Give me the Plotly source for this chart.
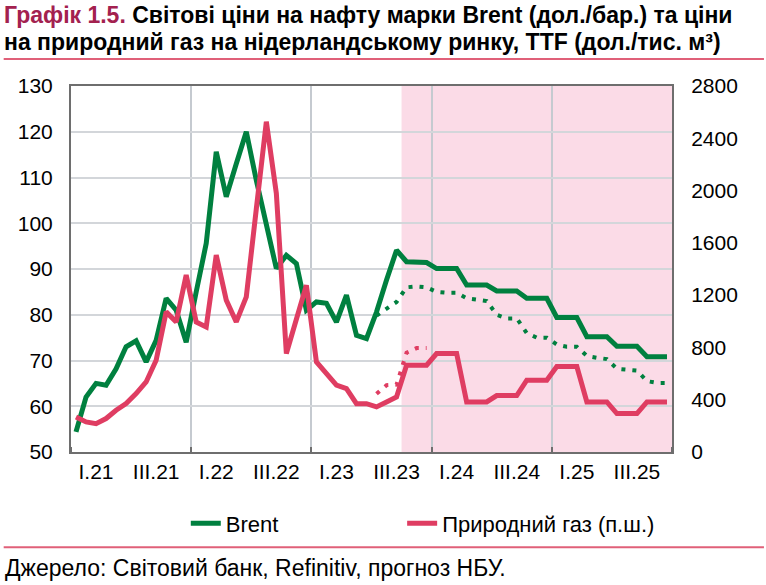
import numpy as np
import plotly.graph_objects as go

# ---------------- data ----------------
months = [f"{y}-{m:02d}" for y in range(2021, 2026) for m in range(1, 13)]

# Brent, $/bbl (actual to Sep-2023, NBU forecast afterwards)
brent = [
    54.4, 62.0, 65.0, 64.6, 68.2, 73.0, 74.3, 69.7, 74.4, 83.6, 81.0, 74.0,
    85.0, 95.6, 115.6, 105.8, 113.0, 120.0, 109.4, 99.2, 90.1, 93.0, 91.2, 81.0,
    82.8, 82.5, 78.4, 84.3, 75.5, 74.8, 80.6, 87.6, 94.1, 91.6, 91.6, 91.4,
    90.1, 90.1, 90.1, 86.5, 86.5, 86.5, 85.2, 85.2, 85.2, 83.6, 83.6, 83.6,
    79.4, 79.4, 79.4, 75.2, 75.2, 75.2, 73.1, 73.1, 73.1, 70.8, 70.8, 70.8,
]

# Natural gas TTF, $/th. m3 (right axis)
gas = [
    268, 230, 217, 256, 319, 371, 447, 536, 702, 1072, 995, 1353,
    995, 957, 1506, 1162, 995, 1187, 1860, 2527, 1979, 753, 1016, 1276,
    689, 600, 511, 485, 370, 370, 345, 383, 421, 664, 664, 664,
    753, 753, 753, 383, 383, 383, 432, 432, 432, 549, 549, 549,
    654, 654, 654, 383, 383, 383, 294, 294, 294, 383, 383, 383,
]

# previous forecast (dotted)
prev_start = "2023-07"
brent_prev = [
    79.8, 81.2, 82.8, 86.0, 86.2, 86.0,
    85.0, 84.8, 84.8, 83.6, 83.3, 83.0, 80.0, 79.2, 79.2, 76.0, 75.0, 75.0,
    73.5, 73.0, 73.0, 71.0, 70.6, 70.3, 68.2, 68.0, 67.8, 65.5, 65.1, 65.1,
]
gas_prev = [445, 511, 515, 760, 795, 795]

forecast_start = "2023-10"

tick_months = ["2021-03", "2021-09", "2022-03", "2022-09", "2023-03",
               "2023-09", "2024-03", "2024-09", "2025-03", "2025-09"]
tick_labels = ["I.21", "III.21", "I.22", "III.22", "I.23",
               "III.23", "I.24", "III.24", "I.25", "III.25"]

# ---------------- styling ----------------
GREEN = "#00803f"
RED = "#df3d62"
PINK = "#fbdbe7"
FONT = "Liberation Sans, Arial, sans-serif"

x_all = np.arange(len(months)) + 0.5
ps = months.index(prev_start)
x_bprev = x_all[ps:ps + len(brent_prev)]
x_gprev = x_all[ps:ps + len(gas_prev)]
tickvals = [months.index(m) + 0.5 for m in tick_months]
fc = months.index(forecast_start)

fig = go.Figure()
fig.add_trace(go.Scatter(x=x_bprev, y=brent_prev, mode="lines",
                         line=dict(color=GREEN, width=4, dash="4px,7px"),
                         showlegend=False, hoverinfo="skip"))
fig.add_trace(go.Scatter(x=x_gprev, y=gas_prev, mode="lines", yaxis="y2",
                         line=dict(color=RED, width=4, dash="4px,7px"),
                         showlegend=False, hoverinfo="skip"))
fig.add_trace(go.Scatter(x=x_all, y=brent, mode="lines", name="Brent",
                         line=dict(color=GREEN, width=5), legend="legend"))
fig.add_trace(go.Scatter(x=x_all, y=gas, mode="lines", yaxis="y2",
                         name="Природний газ (п.ш.)",
                         line=dict(color=RED, width=5), legend="legend2"))

fig.add_shape(type="rect", xref="x", yref="paper", x0=fc, x1=len(months),
              y0=0, y1=1, fillcolor=PINK, line_width=0, layer="below")

# red separators
fig.add_shape(type="line", xref="paper", yref="paper",
              x0=-0.112, x1=1.153, y0=1.074, y1=1.074,
              line=dict(color="#e06079", width=2))
fig.add_shape(type="line", xref="paper", yref="paper",
              x0=-0.112, x1=1.153, y0=-0.26, y1=-0.26,
              line=dict(color="#e06079", width=2))

fig.add_annotation(xref="paper", yref="paper", x=-0.115, y=1.194,
                   xanchor="left", yanchor="middle", showarrow=False,
                   text="<span style='color:#a3214f'>Графік 1.5.</span> Світові ціни на нафту марки Brent (дол./бар.) та ціни",
                   font=dict(family=FONT, size=23, color="black", weight="bold"))
fig.add_annotation(xref="paper", yref="paper", x=-0.115, y=1.12,
                   xanchor="left", yanchor="middle", showarrow=False,
                   text="на природний газ на нідерландському ринку, TTF (дол./тис. м³)",
                   font=dict(family=FONT, size=23, color="black", weight="bold"))
fig.add_annotation(xref="paper", yref="paper", x=-0.113, y=-0.318,
                   xanchor="left", yanchor="middle", showarrow=False,
                   text="Джерело: Світовий банк, Refinitiv, прогноз НБУ.",
                   font=dict(family=FONT, size=23, color="black"))

legend_common = dict(orientation="h", y=-0.195, xanchor="left", yanchor="middle",
                     font=dict(family=FONT, size=22), bgcolor="rgba(0,0,0,0)")

fig.update_layout(
    width=766, height=585,
    margin=dict(l=71, r=94, t=86, b=133),
    paper_bgcolor="white", plot_bgcolor="white",
    font=dict(family=FONT, size=21, color="black"),
    showlegend=True,
    legend=dict(x=0.191, **legend_common),
    legend2=dict(x=0.551, **legend_common),
    xaxis=dict(range=[0, len(months)], tickmode="array", tickvals=tickvals,
               ticktext=tick_labels, ticks="", showgrid=False,
               showline=True, linecolor="#6e6e6e", linewidth=2, mirror=True,
               zeroline=False, tickfont=dict(size=21),
               minor=dict(tickmode="linear", tick0=0, dtick=12, showgrid=True,
                          gridcolor="#c5cad0", gridwidth=1.5, ticks="inside",
                          ticklen=5, tickcolor="#6e6e6e", tickwidth=1.5)),
    yaxis=dict(range=[50, 130], dtick=10, showgrid=True, gridcolor="#d3d6da",
               gridwidth=1.5, zeroline=False, showline=True, linecolor="#6e6e6e",
               linewidth=2, mirror=True, ticks="outside", ticklen=12,
               tickcolor="rgba(0,0,0,0)", tickfont=dict(size=21)),
    yaxis2=dict(range=[0, 2800], dtick=400, overlaying="y", side="right",
                showgrid=False, zeroline=False, showline=False,
                ticks="outside", ticklen=14, tickcolor="rgba(0,0,0,0)",
                tickfont=dict(size=21)),
)

fig.write_html("out.html", config={"displayModeBar": False},
               post_script="document.body.style.margin='0';document.body.style.overflow='hidden';")
